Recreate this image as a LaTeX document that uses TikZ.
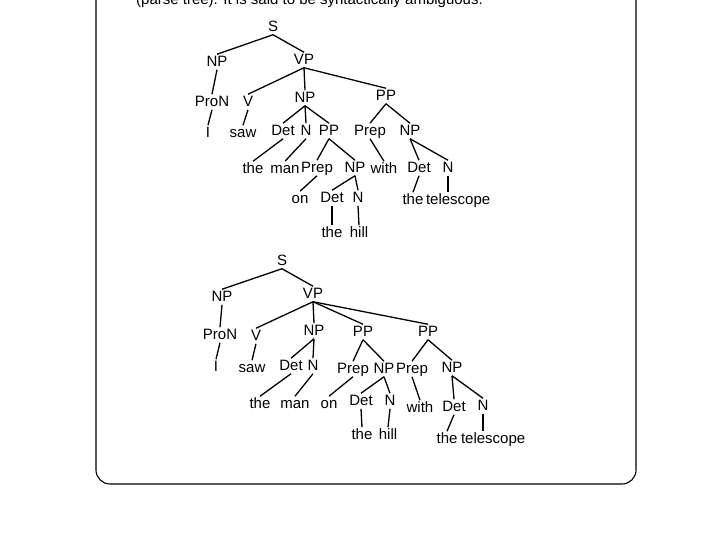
\documentclass[tikz,border=0pt]{standalone}
\usepackage{fontspec}
\setmainfont{Liberation Sans}
\begin{document}
\begin{tikzpicture}[x=1pt,y=-1pt,
  lbl/.style={font=\fontsize{15}{16}\selectfont, inner sep=0.8pt, text height=11pt, text depth=2.5pt},
  edge/.style={line width=1.3pt},
  frame/.style={line width=1.1pt, rounded corners=14pt}]
\useasboundingbox (0,0) rectangle (720,540);
% frame
\draw[frame] (96,-30) -- (96,484) -- (636,484) -- (636,-30);
% clipped heading
\node[lbl, anchor=base west, inner sep=0pt] (title) at (136,4.5) {(parse tree). It is said to be syntactically ambiguous.};

% ---------- tree 1 ----------
\node[lbl] (aS) at (273,27) {S};
\node[lbl] (aNP) at (217,62) {NP};
\node[lbl] (aVP) at (304,60) {VP};
\node[lbl] (aProN) at (212,102) {ProN};
\node[lbl] (aV) at (248,102) {V};
\node[lbl] (aNP2) at (305,98) {NP};
\node[lbl] (aPP) at (386,96) {PP};
\node[lbl] (aI) at (208,133) {I};
\node[lbl] (asaw) at (243,133) {saw};
\node[lbl] (aDet) at (283,131) {Det};
\node[lbl] (aN) at (306,131) {N};
\node[lbl] (aPP2) at (329,131) {PP};
\node[lbl] (aPrep) at (370,131) {Prep};
\node[lbl] (aNP3) at (410,131) {NP};
\node[lbl] (athe) at (253,169) {the};
\node[lbl] (aman) at (285,169) {man};
\node[lbl] (aPrep2) at (317,168) {Prep};
\node[lbl] (aNP4) at (355,168) {NP};
\node[lbl] (awith) at (384,169) {with};
\node[lbl] (aDet2) at (419,168) {Det};
\node[lbl] (aN2) at (448,168) {N};
\node[lbl] (aon) at (300,199) {on};
\node[lbl] (aDet3) at (332,198) {Det};
\node[lbl] (aN3) at (358,198) {N};
\node[lbl] (athe3) at (413,200) {the};
\node[lbl, anchor=west] (atel) at (425,200) {telescope};
\node[lbl] (athe2) at (332,233) {the};
\node[lbl] (ahill) at (359,233) {hill};

\foreach \p/\c in {aS/aNP, aS/aVP, aNP/aProN, aProN/aI, aVP/aV, aVP/aNP2, aVP/aPP,
  aV/asaw, aNP2/aDet, aNP2/aN, aNP2/aPP2, aDet/athe, aN/aman, aPP2/aPrep2, aPP2/aNP4,
  aPrep2/aon, aNP4/aDet3, aNP4/aN3, aDet3/athe2, aN3/ahill, aPP/aPrep, aPP/aNP3,
  aPrep/awith, aNP3/aDet2, aNP3/aN2, aDet2/athe3}
  \draw[edge] (\p.south) -- (\c.north);
\draw[edge] (aN2.south) -- (aN2.south |- atel.north);

% ---------- tree 2 ----------
\node[lbl] (bS) at (282,261) {S};
\node[lbl] (bNP) at (222,297) {NP};
\node[lbl] (bVP) at (313,294) {VP};
\node[lbl] (bProN) at (220,335) {ProN};
\node[lbl] (bV) at (256,336) {V};
\node[lbl] (bNP2) at (314,331) {NP};
\node[lbl] (bPP) at (363,332) {PP};
\node[lbl] (bPP2) at (428,332) {PP};
\node[lbl] (bI) at (216,367) {I};
\node[lbl] (bsaw) at (252,368) {saw};
\node[lbl] (bDet) at (291,366) {Det};
\node[lbl] (bN) at (313,366) {N};
\node[lbl] (bPrep) at (353,369) {Prep};
\node[lbl] (bNP3) at (384,369) {NP};
\node[lbl] (bPrep2) at (412,369) {Prep};
\node[lbl] (bNP4) at (452,368) {NP};
\node[lbl] (bthe) at (260,404) {the};
\node[lbl] (bman) at (295,404) {man};
\node[lbl] (bon) at (329,404) {on};
\node[lbl] (bDet2) at (361,401) {Det};
\node[lbl] (bN2) at (390,401) {N};
\node[lbl] (bwith) at (420,408) {with};
\node[lbl] (bDet3) at (454,407) {Det};
\node[lbl] (bN3) at (483,406) {N};
\node[lbl] (bthe2) at (362,435) {the};
\node[lbl] (bhill) at (388,435) {hill};
\node[lbl] (bthe3) at (447,439) {the};
\node[lbl, anchor=west] (btel) at (460,439) {telescope};

\foreach \p/\c in {bS/bNP, bS/bVP, bNP/bProN, bProN/bI, bVP/bV, bVP/bNP2, bVP/bPP, bVP/bPP2,
  bV/bsaw, bNP2/bDet, bNP2/bN, bDet/bthe, bN/bman, bPP/bPrep, bPP/bNP3, bPrep/bon,
  bNP3/bDet2, bNP3/bN2, bDet2/bthe2, bN2/bhill, bPP2/bPrep2, bPP2/bNP4, bPrep2/bwith,
  bNP4/bDet3, bNP4/bN3, bDet3/bthe3}
  \draw[edge] (\p.south) -- (\c.north);
\draw[edge] (bN3.south) -- (bN3.south |- btel.north);
\end{tikzpicture}
\end{document}
